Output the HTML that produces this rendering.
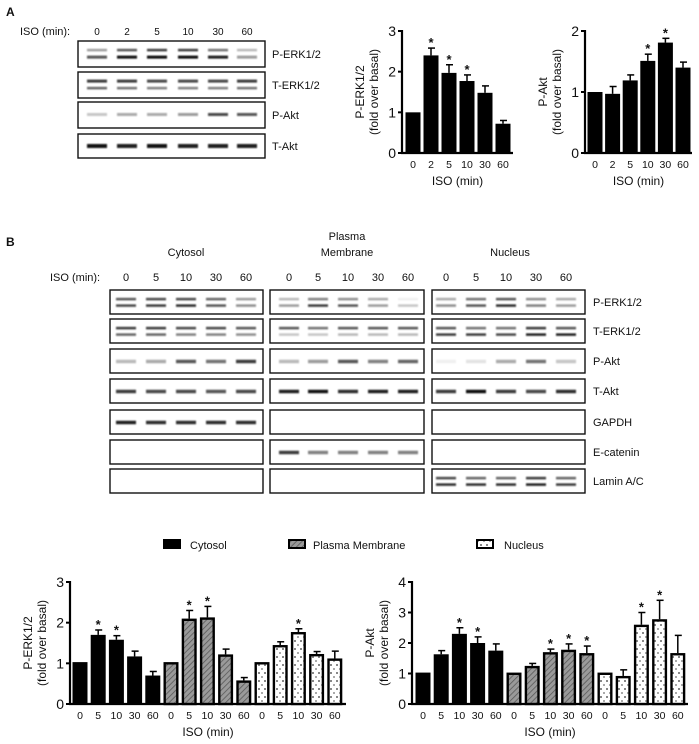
<!DOCTYPE html>
<html><head><meta charset="utf-8"><style>
html,body{margin:0;padding:0;background:#fff}
svg{display:block;font-family:"Liberation Sans",sans-serif}
</style></head><body>
<svg id="fig" width="699" height="744" viewBox="0 0 699 744">
<defs>
<filter id="blur" x="-20%" y="-100%" width="140%" height="300%"><feGaussianBlur stdDeviation="0.9"/></filter>
<pattern id="hatch" width="4" height="4" patternUnits="userSpaceOnUse" patternTransform="rotate(45)">
<rect width="4" height="4" fill="#9a9a9a"/><line x1="0" y1="0" x2="0" y2="4" stroke="#555" stroke-width="1.5"/></pattern>
<pattern id="dots" width="6" height="8" patternUnits="userSpaceOnUse">
<rect width="6" height="8" fill="#fff"/><rect x="0" y="0" width="2" height="2" fill="#888"/><rect x="3" y="4" width="2" height="2" fill="#aaa"/></pattern>
</defs>
<g id="root"></g>
</svg>
<script>
// ---- Panel A data ----
const aCats = ['0','2','5','10','30','60'];
const aErkVals = [1, 2.4, 1.97, 1.77, 1.48, 0.72];
const aErkErr = [0, 0.18, 0.2, 0.15, 0.17, 0.08];
const aErkStar = [false, true, true, true, false, false];
const aErkTicks = [0,1,2,3];
const aAktVals = [1, 0.97, 1.19, 1.51, 1.81, 1.4];
const aAktErr = [0, 0.12, 0.09, 0.11, 0.07, 0.09];
const aAktStar = [false, false, false, true, true, false];
const aAktTicks = [0,1,2];
// ---- Panel B data ----
const bCats = ['0','5','10','30','60','0','5','10','30','60','0','5','10','30','60'];
const bGroups = ['cyt','cyt','cyt','cyt','cyt','pm','pm','pm','pm','pm','nuc','nuc','nuc','nuc','nuc'];
const bErkVals = [1.03,1.7,1.58,1.17,0.7, 1.03,2.1,2.13,1.22,0.58, 1.03,1.45,1.77,1.23,1.12];
const bErkErr = [0,0.12,0.1,0.13,0.1, 0,0.2,0.27,0.13,0.07, 0,0.08,0.08,0.06,0.18];
const bErkStar = [0,1,1,0,0, 0,1,1,0,0, 0,0,1,0,0];
const bErkTicks = [0,1,2,3];
const bAktVals = [1.03,1.63,2.3,2.0,1.75, 1.03,1.25,1.7,1.78,1.67, 1.03,0.92,2.6,2.78,1.67];
const bAktErr = [0,0.12,0.2,0.2,0.22, 0,0.08,0.1,0.19,0.23, 0,0.2,0.4,0.62,0.58];
const bAktStar = [0,0,1,1,0, 0,0,1,1,1, 0,0,1,1,0];
const bAktTicks = [0,1,2,3,4];

const NS='http://www.w3.org/2000/svg';
const root=document.getElementById('root');
function mk(tag,attrs,parent){const e=document.createElementNS(NS,tag);for(const k in attrs)e.setAttribute(k,attrs[k]);(parent||root).appendChild(e);return e;}
function txt(x,y,s,size,anchor,weight,parent){const t=mk('text',{x:x,y:y,'font-size':size,'text-anchor':anchor||'start','font-weight':weight||'normal',fill:'#111'},parent);t.textContent=s;return t;}

function barChart(o){
  const g=mk('g',{});
  
  
  const ymax=o.ticks[o.ticks.length-1];
  const yS=v=>o.y0-(o.y0-o.yTop)*v/ymax;
  const xS=i=>o.x0+o.first+i*o.step;
  const ya=mk('line',{x1:o.x0,y1:o.yTop-1,x2:o.x0,y2:o.y0+1,stroke:'#000','stroke-width':2.2},g);
  
  const xa=mk('line',{x1:o.x0-1,y1:o.y0,x2:o.xEnd,y2:o.y0,stroke:'#000','stroke-width':2.2},g);
  
  o.ticks.forEach(t=>{
    mk('line',{x1:o.x0-4,y1:yS(t),x2:o.x0,y2:yS(t),stroke:'#000','stroke-width':2},g);
    const l=txt(o.x0-6,yS(t)+5,String(t),14,'end','normal',g);
    
  });
  o.vals.forEach((v,i)=>{
    const cx=xS(i), grp=o.groups?o.groups[i]:'cyt';
    const fill=grp==='pm'?'url(#hatch)':grp==='nuc'?'url(#dots)':'#000';
    const sw=grp==='cyt'?0:2.4;
    const b=mk('rect',{x:cx-o.bw/2+sw/2,y:yS(v)+sw/2,width:o.bw-sw,height:Math.max(0,o.y0-yS(v)-sw/2),fill:fill,stroke:sw?'#000':'none','stroke-width':sw},g);
    
    if(o.err[i]>0){
      const ye=yS(v+o.err[i]);
      mk('line',{x1:cx,y1:yS(v),x2:cx,y2:ye,stroke:'#000','stroke-width':1.5},g);
      mk('line',{x1:cx-3,y1:ye,x2:cx+4,y2:ye,stroke:'#000','stroke-width':1.5},g);
    }
    if(o.star[i]){
      const s=txt(cx,yS(v+o.err[i])-1,'*',13,'middle','bold',g);
      
    }
    const tl=txt(cx,o.y0+15,o.cats[i],10.5,'middle','normal',g);
    
  });
  const xt=txt((o.x0+o.xEnd)/2,o.y0+32,'ISO (min)',12,'middle','normal',g);
  
  const ymid=(o.y0+o.yTop)/2;
  const yt=mk('text',{x:0,y:0,'font-size':12,'text-anchor':'middle',fill:'#111',transform:`translate(${o.x0-38},${ymid}) rotate(-90)`},g);
  
  const t1=mk('tspan',{x:0,dy:0},yt);t1.textContent=o.ylab;
  const t2=mk('tspan',{x:0,dy:14},yt);t2.textContent='(fold over basal)';
}

barChart({name:'chart-a-perk',x0:402,xEnd:513,y0:153,yTop:31,first:11,step:18,bw:15,cats:aCats,vals:aErkVals,err:aErkErr,star:aErkStar,ticks:aErkTicks,ylab:'P-ERK1/2'});
barChart({name:'chart-a-pakt',x0:585,xEnd:692,y0:153,yTop:31,first:10,step:17.6,bw:15,cats:aCats,vals:aAktVals,err:aAktErr,star:aAktStar,ticks:aAktTicks,ylab:'P-Akt'});
barChart({name:'chart-b-perk',x0:70,xEnd:346,y0:704,yTop:582,first:10,step:18.2,bw:15,cats:bCats,groups:bGroups,vals:bErkVals,err:bErkErr,star:bErkStar,ticks:bErkTicks,ylab:'P-ERK1/2'});
barChart({name:'chart-b-pakt',x0:412,xEnd:688,y0:704,yTop:582,first:11,step:18.2,bw:15,cats:bCats,groups:bGroups,vals:bAktVals,err:bAktErr,star:bAktStar,ticks:bAktTicks,ylab:'P-Akt'});

let t=txt(6,16,'A',12,'start','bold');
t=txt(6,246,'B',12,'start','bold');

function blot(name,x,y,w,h,lanes,bands){
  const g=mk('g',{});
  
  
  mk('rect',{x:x,y:y,width:w,height:h,fill:'#fff',stroke:'#111','stroke-width':1.4},g);
  if(bands){
    lanes.forEach((lx,i)=>{
      bands.forEach(bd=>{
        const a=bd.a[i]; if(a<=0) return;
        mk('rect',{x:lx-10,y:y+h*bd.p-bd.t/2,width:20,height:bd.t,fill:'#111',opacity:Math.min(1,a*1.15),filter:'url(#blur)'},g);
      });
    });
  }
}
t=txt(20,35,'ISO (min):',11,'start','normal');
const aLanes=[97,127,157,188,218,247];
aCats.forEach((c,i)=>{const l=txt(aLanes[i],35,c,10,'middle');});
const aRows=[
 ['P-ERK1/2',41,26,[{p:0.35,t:2.5,a:[0.35,0.6,0.7,0.7,0.5,0.25]},{p:0.62,t:3,a:[0.6,0.85,0.9,0.95,0.8,0.35]}]],
 ['T-ERK1/2',72,26,[{p:0.35,t:3,a:[0.7,0.7,0.65,0.65,0.65,0.7]},{p:0.62,t:2.5,a:[0.55,0.5,0.45,0.45,0.45,0.5]}]],
 ['P-Akt',102,26,[{p:0.48,t:3,a:[0.2,0.3,0.3,0.35,0.65,0.6]}]],
 ['T-Akt',134,24,[{p:0.5,t:4,a:[0.85,0.8,0.85,0.8,0.8,0.8]}]]
];
aRows.forEach(r=>{blot('blot-a-'+r[0].toLowerCase().replace(/[^a-z0-9]/g,''),78,r[1],187,r[2],aLanes,r[3]);
 const l=txt(272,r[1]+r[2]/2+4,r[0],11);});

[['Cytosol',186,256],['Plasma',347,240],['Membrane',347,256],['Nucleus',510,256]].forEach(h=>{const l=txt(h[1],h[2],h[0],11,'middle');});
t=txt(50,281,'ISO (min):',11,'start','normal');
const bX=[[110,153],[270,154],[432,153]];
const bLanes=[[126,156,186,216,246],[289,318,348,378,408],[446,476,506,536,566]];
const bLab=['0','5','10','30','60'];
bLanes.forEach(ls=>ls.forEach((lx,i)=>{const l=txt(lx,281,bLab[i],11,'middle');}));
const rowY=[290,319,349,379,410,440,469];
const rowNames=['P-ERK1/2','T-ERK1/2','P-Akt','T-Akt','GAPDH','E-catenin','Lamin A/C'];
const two=(a,b)=>[{p:0.38,t:2.5,a:a},{p:0.65,t:2.5,a:b}];
const one=(a)=>[{p:0.52,t:3.5,a:a}];
const bandsB=[
 [two([0.6,0.65,0.65,0.55,0.35],[0.65,0.7,0.75,0.6,0.4]),two([0.7,0.7,0.65,0.65,0.6],[0.55,0.55,0.45,0.45,0.4]),one([0.25,0.3,0.6,0.5,0.7]),one([0.7,0.65,0.65,0.6,0.65]),one([0.8,0.75,0.75,0.75,0.75]),null,null],
 [two([0.25,0.45,0.4,0.3,0.05],[0.35,0.7,0.6,0.35,0.2]),two([0.6,0.5,0.6,0.6,0.6],[0.2,0.2,0.25,0.25,0.25]),one([0.25,0.35,0.6,0.45,0.55]),one([0.8,0.85,0.75,0.8,0.8]),null,one([0.7,0.45,0.45,0.45,0.45]),null],
 [two([0.3,0.5,0.6,0.4,0.3],[0.4,0.6,0.75,0.45,0.35]),two([0.6,0.5,0.5,0.7,0.6],[0.7,0.7,0.65,0.8,0.8]),one([0.05,0.1,0.3,0.5,0.2]),one([0.7,0.9,0.7,0.65,0.75]),null,null,two([0.65,0.55,0.55,0.7,0.55],[0.75,0.75,0.75,0.8,0.7])]
];
rowY.forEach((y,r)=>{
  bX.forEach((bx,c)=>blot('blot-b-'+['cytosol','membrane','nucleus'][c]+'-'+rowNames[r].toLowerCase().replace(/[^a-z0-9]/g,''),bx[0],y,bx[1],24,bLanes[c],bandsB[c][r]));
  const l=txt(593,y+16,rowNames[r],11);
});

const leg=[['Cytosol',163,190,'#000'],['Plasma Membrane',288,313,'url(#hatch)'],['Nucleus',476,504,'url(#dots)']];
leg.forEach(l=>{
  const g=mk('g',{});
  
  
  mk('rect',{x:l[1]+1,y:540,width:16,height:8,fill:l[3],stroke:'#000','stroke-width':2},g);
  txt(l[2],549,l[0],11,'start','normal',g);
});
</script>
</body></html>
